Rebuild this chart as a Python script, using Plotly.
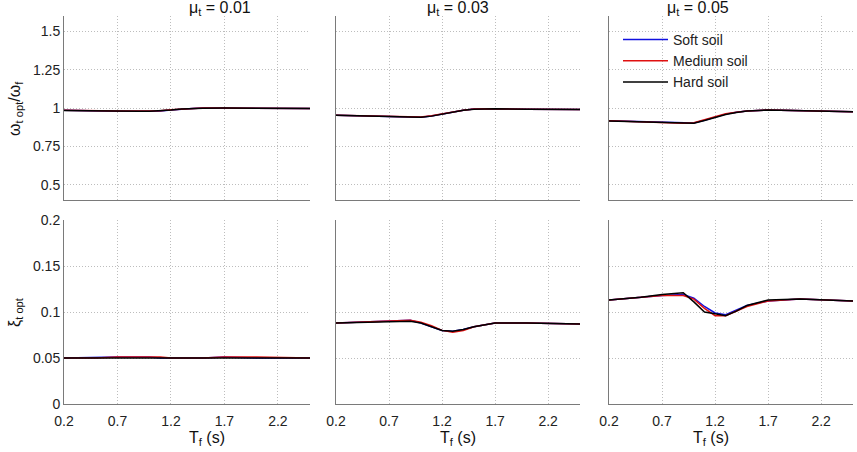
import plotly.graph_objects as go

tf = [0.2, 0.5, 0.7, 0.9, 1.0, 1.1, 1.2, 1.3, 1.4, 1.5, 1.7, 2.0, 2.5]
mu_labels = ["0.01", "0.03", "0.05"]
soil_names = ["Soft soil", "Medium soil", "Hard soil"]
soil_colors = ["#1010e0", "#e01010", "#000000"]

# frequency ratio omega_t opt / omega_f
w_001_soft = [0.985, 0.980, 0.979, 0.979, 0.979, 0.981, 0.987, 0.993, 0.997, 1.000, 1.000, 0.998, 0.997]
w_001_med = [0.985, 0.980, 0.980, 0.980, 0.980, 0.982, 0.988, 0.993, 0.997, 1.000, 1.000, 0.998, 0.997]
w_001_hard = [0.984, 0.980, 0.979, 0.979, 0.979, 0.981, 0.987, 0.993, 0.997, 0.999, 1.000, 0.998, 0.997]
w_003_soft = [0.953, 0.947, 0.943, 0.938, 0.940, 0.948, 0.962, 0.975, 0.985, 0.993, 0.995, 0.992, 0.990]
w_003_med = [0.953, 0.947, 0.943, 0.939, 0.941, 0.950, 0.963, 0.976, 0.986, 0.993, 0.995, 0.992, 0.990]
w_003_hard = [0.952, 0.946, 0.942, 0.937, 0.939, 0.947, 0.961, 0.975, 0.985, 0.992, 0.995, 0.992, 0.990]
w_005_soft = [0.917, 0.911, 0.906, 0.900, 0.902, 0.920, 0.942, 0.960, 0.972, 0.980, 0.987, 0.984, 0.975]
w_005_med = [0.917, 0.911, 0.906, 0.901, 0.904, 0.923, 0.945, 0.962, 0.973, 0.981, 0.987, 0.984, 0.975]
w_005_hard = [0.916, 0.910, 0.905, 0.898, 0.900, 0.918, 0.940, 0.958, 0.971, 0.980, 0.987, 0.984, 0.975]

# damping ratio xi_t opt
x_001_soft = [0.050, 0.051, 0.051, 0.051, 0.051, 0.050, 0.050, 0.050, 0.050, 0.050, 0.051, 0.050, 0.050]
x_001_med = [0.050, 0.050, 0.051, 0.051, 0.051, 0.051, 0.050, 0.050, 0.050, 0.050, 0.051, 0.051, 0.050]
x_001_hard = [0.050, 0.050, 0.050, 0.050, 0.050, 0.050, 0.050, 0.050, 0.050, 0.050, 0.050, 0.050, 0.050]
x_003_soft = [0.088, 0.089, 0.090, 0.091, 0.088, 0.084, 0.080, 0.079, 0.081, 0.084, 0.088, 0.088, 0.087]
x_003_med = [0.088, 0.089, 0.090, 0.091, 0.089, 0.085, 0.080, 0.078, 0.080, 0.084, 0.088, 0.088, 0.087]
x_003_hard = [0.088, 0.089, 0.090, 0.090, 0.088, 0.084, 0.080, 0.079, 0.081, 0.084, 0.088, 0.088, 0.087]
x_005_soft = [0.113, 0.116, 0.118, 0.119, 0.115, 0.106, 0.099, 0.097, 0.102, 0.107, 0.112, 0.114, 0.112]
x_005_med = [0.113, 0.116, 0.118, 0.118, 0.114, 0.104, 0.096, 0.096, 0.101, 0.106, 0.112, 0.114, 0.112]
x_005_hard = [0.113, 0.116, 0.119, 0.121, 0.111, 0.100, 0.098, 0.096, 0.101, 0.107, 0.113, 0.114, 0.112]

top_data = [[w_001_soft, w_001_med, w_001_hard],
            [w_003_soft, w_003_med, w_003_hard],
            [w_005_soft, w_005_med, w_005_hard]]
bot_data = [[x_001_soft, x_001_med, x_001_hard],
            [x_003_soft, x_003_med, x_003_hard],
            [x_005_soft, x_005_med, x_005_hard]]

W, H = 857, 452
xdom = [[64 / W, 310 / W], [336 / W, 580 / W], [609 / W, 853 / W]]
ytop = [1 - 200 / H, 1 - 16 / H]
ybot = [1 - 404 / H, 1 - 220 / H]

font = "Liberation Sans, Arial, sans-serif"
fig = go.Figure()
layout = dict(
    template="none",
    width=W, height=H, margin=dict(l=0, r=0, t=0, b=0, autoexpand=False),
    paper_bgcolor="white", plot_bgcolor="white",
    font=dict(family=font, size=14, color="#222"),
    showlegend=True,
    legend=dict(x=618 / W, y=1 - 24 / H, xanchor="left", yanchor="top",
                bgcolor="rgba(0,0,0,0)", borderwidth=0,
                font=dict(size=14, color="#222"), tracegroupgap=0,
                itemwidth=45),
)

grid = dict(showgrid=True, gridcolor="#bdbdbd", griddash="1px,2px", gridwidth=1,
            zeroline=False, showline=True, linecolor="#7a7a7a", linewidth=1,
            ticks="", mirror=False, automargin=False)

annotations = []
for c in range(3):
    for r in range(2):
        idx = r * 3 + c + 1
        xa = "x" if idx == 1 else f"x{idx}"
        ya = "y" if idx == 1 else f"y{idx}"
        data = top_data[c] if r == 0 else bot_data[c]
        for s in range(3):
            fig.add_trace(go.Scatter(
                x=tf, y=data[s], mode="lines", xaxis=xa, yaxis=ya,
                line=dict(color=soil_colors[s], width=1.5),
                name=soil_names[s], showlegend=(idx == 3),
            ))
        xkey = "xaxis" if idx == 1 else f"xaxis{idx}"
        ykey = "yaxis" if idx == 1 else f"yaxis{idx}"
        layout[xkey] = dict(grid, domain=xdom[c], range=[0.2, 2.5],
                            tickvals=[0.2, 0.7, 1.2, 1.7, 2.2],
                            ticktext=["0.2", "0.7", "1.2", "1.7", "2.2"],
                            showticklabels=(r == 1), anchor=ya,
                            ticklabelstandoff=4,
                            tickfont=dict(size=14, color="#222"))
        if r == 0:
            layout[ykey] = dict(grid, domain=ytop, range=[0.4, 1.6],
                                tickvals=[0.5, 0.75, 1, 1.25, 1.5],
                                ticktext=["0.5", "0.75", "1", "1.25", "1.5"],
                                showticklabels=(c == 0), anchor=xa,
                                tickfont=dict(size=14, color="#222"))
        else:
            layout[ykey] = dict(grid, domain=ybot, range=[0, 0.2],
                                tickvals=[0, 0.05, 0.1, 0.15, 0.2],
                                ticktext=["0", "0.05", "0.1", "0.15", "0.2"],
                                showticklabels=(c == 0), anchor=xa,
                                tickfont=dict(size=14, color="#222"))
    xc = (xdom[c][0] + xdom[c][1]) / 2
    annotations.append(dict(text=f"μ<sub>t</sub> = {mu_labels[c]}", x=xc, y=1 - 9 / H,
                            xref="paper", yref="paper", showarrow=False,
                            font=dict(size=16, color="#111"), yanchor="middle"))
    annotations.append(dict(text="T<sub>f</sub> (s)", x=xc, y=1 - 438 / H,
                            xref="paper", yref="paper", showarrow=False,
                            font=dict(size=16, color="#111"), yanchor="middle"))

annotations.append(dict(text="ω<sub>t opt</sub>/ω<sub>f</sub>", x=15 / W, y=1 - 108 / H,
                        xref="paper", yref="paper", showarrow=False, textangle=-90,
                        font=dict(size=16, color="#111"), xanchor="center", yanchor="middle"))
annotations.append(dict(text="ξ<sub>t opt</sub>", x=15 / W, y=1 - 312 / H,
                        xref="paper", yref="paper", showarrow=False, textangle=-90,
                        font=dict(size=16, color="#111"), xanchor="center", yanchor="middle"))
layout["annotations"] = annotations
fig.update_layout(**layout)
fig.write_html("out.html")
